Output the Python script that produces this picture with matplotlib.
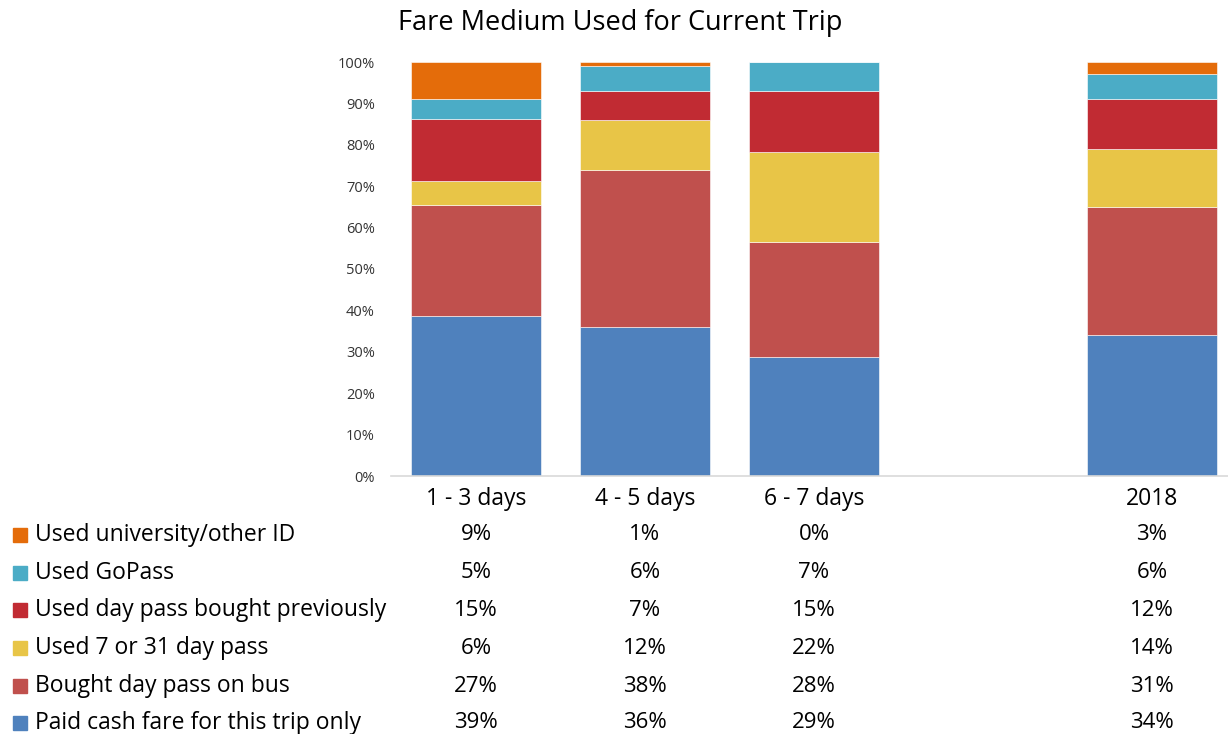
import numpy as np
import matplotlib.pyplot as plt
from matplotlib.patches import Rectangle
from matplotlib.transforms import blended_transform_factory

plt.rcParams['font.family'] = ['Open Sans', 'DejaVu Sans']

# categories (blank slot keeps the gap before 2018)
categories = ["1 - 3 days", "4 - 5 days", "6 - 7 days", "", "2018"]

# series, bottom to top
series = ["Paid cash fare for this trip only", "Bought day pass on bus",
          "Used 7 or 31 day pass", "Used day pass bought previously",
          "Used GoPass", "Used university/other ID"]
cash = [39, 36, 29, None, 34]
bus_pass = [27, 38, 28, None, 31]
period_pass = [6, 12, 22, None, 14]
prev_pass = [15, 7, 15, None, 12]
gopass = [5, 6, 7, None, 6]
univ_id = [9, 1, 0, None, 3]
colors = ["#4F81BD", "#C0504D", "#E8C547", "#C12B33", "#4BACC6", "#E46C0A"]

values = [cash, bus_pass, period_pass, prev_pass, gopass, univ_id]

fig = plt.figure(figsize=(12.28, 7.34), dpi=100)
ax = fig.add_axes([391.5 / 1228, 1 - 476 / 734, 845 / 1228, 414 / 734])

x = np.arange(len(categories))
keep = [i for i, c in enumerate(categories) if c]
data = np.array([[v[i] for i in keep] for v in values], dtype=float)
shares = data / data.sum(axis=0)  # 100% stacked
bottom = np.zeros(len(keep))
for s, col in zip(shares, colors):
    ax.bar(x[keep], s, width=0.77, bottom=bottom, color=col, edgecolor="white", linewidth=0.4)
    bottom += s

ax.set_xlim(-0.5, 4.5)
ax.set_ylim(0, 1)
ax.set_yticks(np.arange(0, 1.01, 0.1))
ax.set_yticklabels([f"{int(round(t*100))}%" for t in np.arange(0, 1.01, 0.1)], fontsize=10.5, color="#333333")
ax.tick_params(axis="y", length=0, pad=12)
ax.tick_params(axis="x", length=0, pad=8)
ax.set_xticks(x)
ax.set_xticklabels(categories, fontsize=16.5)
for sp in ["top", "right", "left"]:
    ax.spines[sp].set_visible(False)
ax.spines["bottom"].set_color("#D9D9D9")
ax.spines["bottom"].set_linewidth(1.2)

fig.text(620 / 1228, 1 - 23 / 734, "Fare Medium Used for Current Trip", fontsize=19.5,
         ha="center", va="center")

# data table under the chart, top row = top of stack
trans = blended_transform_factory(ax.transData, fig.transFigure)
row_y = [535, 573, 610, 648, 686, 723]
for r, idx in enumerate(range(len(series) - 1, -1, -1)):
    yf = 1 - row_y[r] / 734
    fig.patches.append(Rectangle((13 / 1228, yf - 7 / 734), 14 / 1228, 14 / 734,
                                 transform=fig.transFigure, color=colors[idx]))
    fig.text(35 / 1228, yf, series[idx], fontsize=16.5, ha="left", va="center")
    for i in keep:
        ax.text(x[i], yf, f"{values[idx][i]}%", transform=trans, fontsize=16,
                ha="center", va="center", clip_on=False)

fig.savefig("out.png", dpi=100)
